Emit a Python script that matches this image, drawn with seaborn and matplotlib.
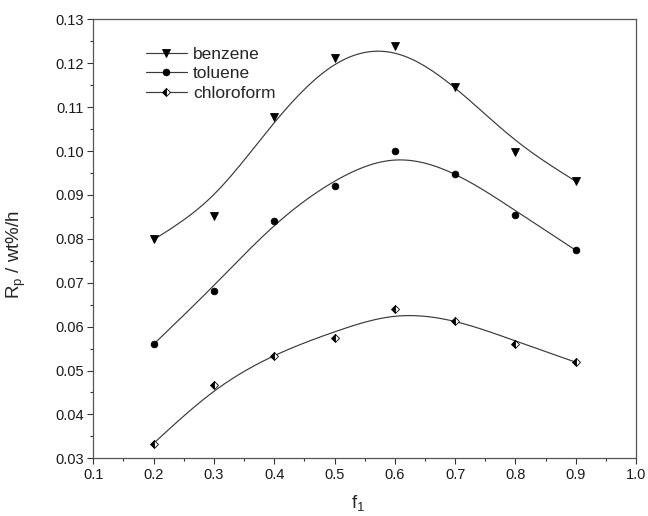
import numpy as np
import pandas as pd
import matplotlib
matplotlib.use("Agg")
import matplotlib.pyplot as plt
from matplotlib.lines import Line2D
from matplotlib.ticker import MultipleLocator, FormatStrFormatter
import seaborn as sns

f1 = [0.2, 0.3, 0.4, 0.5, 0.6, 0.7, 0.8, 0.9]
benzene = [0.0800, 0.0852, 0.1078, 0.1211, 0.1239, 0.1145, 0.0998, 0.0932]
toluene = [0.0560, 0.0680, 0.0841, 0.0920, 0.1000, 0.0947, 0.0854, 0.0774]
chloroform = [0.0333, 0.0467, 0.0533, 0.0573, 0.0640, 0.0613, 0.0560, 0.0519]
series_names = ["benzene", "toluene", "chloroform"]


def smooth(x, y, lam_c=2e-4, end_weight=10.0, n=281):
    """Penalized (cubic-smoothing-spline-like) fit of the data on a fine grid."""
    xs = np.linspace(min(x), max(x), n)
    h = xs[1] - xs[0]
    idx = np.round((np.array(x) - xs[0]) / h).astype(int)
    w = np.zeros(n)
    w[idx] = 1.0
    w[idx[0]] = w[idx[-1]] = end_weight
    yy = np.zeros(n)
    yy[idx] = y
    D = np.diff(np.eye(n), n=2, axis=0)
    lam = lam_c / h ** 3
    f = np.linalg.solve(np.diag(w) + lam * D.T @ D, w * yy)
    return xs, f


sns.set_theme(style="white")
plt.rcParams["font.family"] = ["Liberation Sans", "DejaVu Sans"]
plt.rcParams["mathtext.fontset"] = "custom"
plt.rcParams["mathtext.rm"] = "Liberation Sans"
plt.rcParams["mathtext.it"] = "Liberation Sans"

fig, ax = plt.subplots(figsize=(6.48, 5.16), dpi=100)
fig.subplots_adjust(left=0.144, right=0.9815, top=0.9626, bottom=0.1118)

markers = {"benzene": dict(marker="v", fillstyle="full", ms=5.5),
           "toluene": dict(marker="o", fillstyle="full", ms=4.8),
           "chloroform": dict(marker="D", fillstyle="left", ms=4.0)}
data = {"benzene": benzene, "toluene": toluene, "chloroform": chloroform}
line_color = "#3a3a3a"
handles = []
for name in series_names:
    y = np.array(data[name])
    xs, fy = smooth(f1, y)
    fit = pd.DataFrame({"x": xs, "y": fy})
    sns.lineplot(data=fit, x="x", y="y", ax=ax, color=line_color, lw=0.85)
    pts = pd.DataFrame({"x": f1, "y": y})
    sns.lineplot(data=pts, x="x", y="y", ax=ax, color="black", linestyle="",
                 markerfacecoloralt="white", markeredgecolor="black",
                 markeredgewidth=0.6, **markers[name])
    handles.append(Line2D([], [], color=line_color, lw=0.85, markerfacecoloralt="white",
                          markeredgecolor="black", markerfacecolor="black",
                          markeredgewidth=0.6, **markers[name]))

ax.set_xlim(0.1, 1.0)
ax.set_ylim(0.03, 0.13)
ax.xaxis.set_major_locator(MultipleLocator(0.1))
ax.xaxis.set_minor_locator(MultipleLocator(0.05))
ax.yaxis.set_major_locator(MultipleLocator(0.01))
ax.yaxis.set_minor_locator(MultipleLocator(0.005))
ax.xaxis.set_major_formatter(FormatStrFormatter("%.1f"))
ax.yaxis.set_major_formatter(FormatStrFormatter("%.2f"))
ax.tick_params(which="both", direction="out", bottom=True, left=True, top=False, right=False,
               colors="#333333", labelcolor="#1a1a1a", labelsize=10.5)
ax.tick_params(which="major", length=4.5, width=0.8, pad=2.5)
ax.tick_params(which="minor", length=2.5, width=0.8)
for s in ax.spines.values():
    s.set_color("#555555")
    s.set_linewidth(0.9)

ax.set_xlabel(r"f$_\mathrm{1}$", fontsize=13.5)
ax.set_ylabel(r"R$_\mathrm{p}$ / wt%/h", fontsize=13.5)
ax.xaxis.set_label_coords(0.488, -0.078)
ax.yaxis.set_label_coords(-0.12, 0.465)

ax.legend(handles, series_names, loc="upper left", bbox_to_anchor=(0.097, 0.937),
          frameon=False, fontsize=12.5, handlelength=2.36, handletextpad=0.35,
          labelspacing=0.24, borderpad=0, borderaxespad=0)

fig.savefig("out.png", dpi=100)
